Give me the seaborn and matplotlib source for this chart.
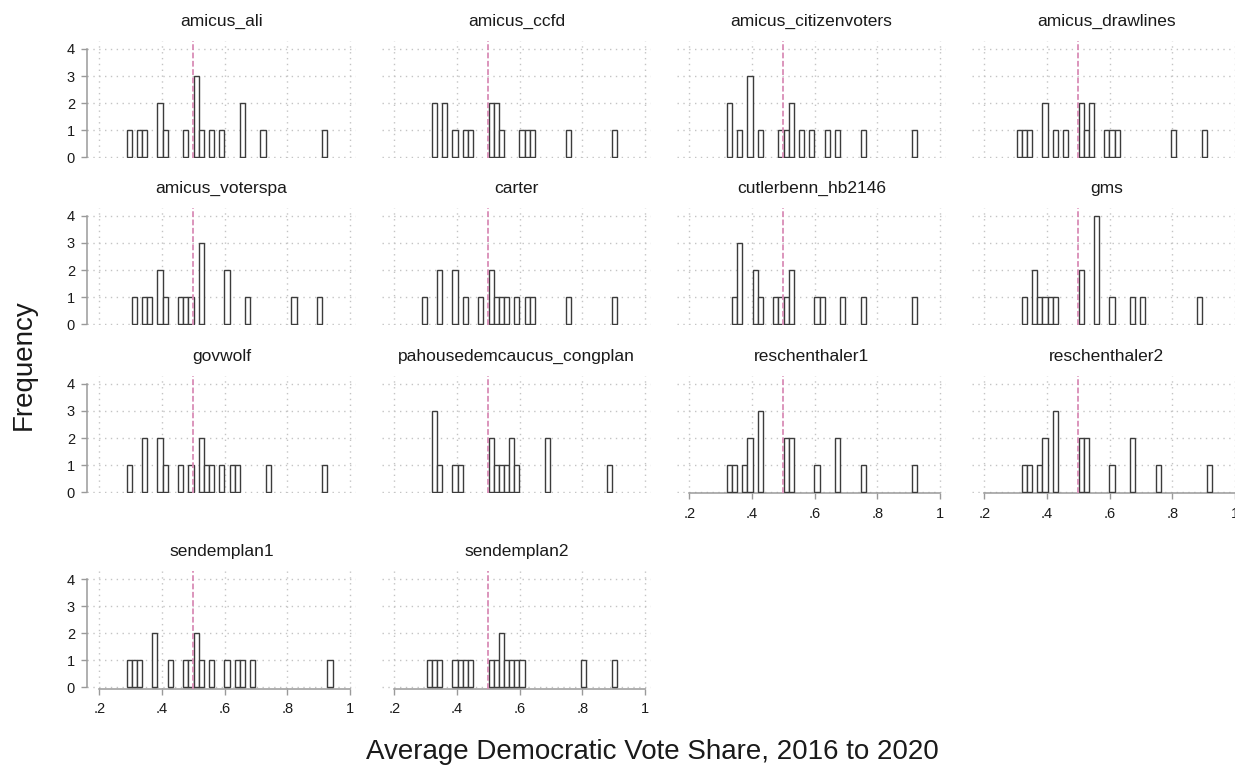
import matplotlib
matplotlib.use("Agg")
import matplotlib.pyplot as plt
import pandas as pd
import seaborn as sns

# ---- data: average Democratic vote share by district, one list per plan ----
plans = [
    "amicus_ali", "amicus_ccfd", "amicus_citizenvoters", "amicus_drawlines",
    "amicus_voterspa", "carter", "cutlerbenn_hb2146", "gms",
    "govwolf", "pahousedemcaucus_congplan", "reschenthaler1", "reschenthaler2",
    "sendemplan1", "sendemplan2",
]

amicus_ali = [0.295, 0.328, 0.345, 0.394, 0.394, 0.410, 0.476, 0.509, 0.509,
              0.509, 0.525, 0.558, 0.591, 0.657, 0.657, 0.723, 0.920]
amicus_ccfd = [0.328, 0.328, 0.361, 0.361, 0.394, 0.427, 0.443, 0.509, 0.509,
               0.525, 0.525, 0.542, 0.608, 0.624, 0.640, 0.755, 0.903]
amicus_citizenvoters = [0.328, 0.328, 0.361, 0.394, 0.394, 0.394, 0.427, 0.493,
                        0.509, 0.525, 0.525, 0.558, 0.591, 0.640, 0.673, 0.755, 0.920]
amicus_drawlines = [0.312, 0.328, 0.345, 0.394, 0.394, 0.427, 0.460, 0.509, 0.509,
                    0.525, 0.542, 0.542, 0.591, 0.608, 0.624, 0.805, 0.903]
amicus_voterspa = [0.312, 0.345, 0.361, 0.394, 0.394, 0.410, 0.460, 0.476, 0.493,
                   0.525, 0.525, 0.525, 0.608, 0.608, 0.673, 0.821, 0.903]
carter = [0.295, 0.345, 0.345, 0.394, 0.394, 0.427, 0.476, 0.509, 0.509,
          0.525, 0.542, 0.558, 0.591, 0.624, 0.640, 0.755, 0.903]
cutlerbenn_hb2146 = [0.345, 0.361, 0.361, 0.361, 0.410, 0.410, 0.427, 0.476, 0.493,
                     0.509, 0.525, 0.525, 0.608, 0.624, 0.690, 0.755, 0.920]
gms = [0.328, 0.361, 0.361, 0.378, 0.394, 0.410, 0.427, 0.509, 0.509,
       0.558, 0.558, 0.558, 0.558, 0.608, 0.673, 0.706, 0.887]
govwolf = [0.295, 0.345, 0.345, 0.394, 0.394, 0.410, 0.460, 0.493, 0.525,
           0.525, 0.542, 0.558, 0.591, 0.624, 0.640, 0.739, 0.920]
pahousedemcaucus_congplan = [0.328, 0.328, 0.328, 0.345, 0.394, 0.410, 0.509, 0.509,
                             0.525, 0.542, 0.558, 0.575, 0.575, 0.591, 0.690, 0.690, 0.887]
reschenthaler1 = [0.328, 0.345, 0.378, 0.394, 0.394, 0.427, 0.427, 0.427, 0.509,
                  0.509, 0.525, 0.525, 0.608, 0.673, 0.673, 0.755, 0.920]
reschenthaler2 = [0.328, 0.345, 0.378, 0.394, 0.394, 0.427, 0.427, 0.427, 0.509,
                  0.509, 0.525, 0.525, 0.608, 0.673, 0.673, 0.755, 0.920]
sendemplan1 = [0.295, 0.312, 0.328, 0.378, 0.378, 0.427, 0.476, 0.493, 0.509,
               0.509, 0.525, 0.558, 0.608, 0.640, 0.657, 0.690, 0.936]
sendemplan2 = [0.312, 0.328, 0.345, 0.394, 0.410, 0.427, 0.443, 0.509, 0.525,
               0.542, 0.542, 0.558, 0.575, 0.591, 0.608, 0.805, 0.903]

shares = {
    "amicus_ali": amicus_ali, "amicus_ccfd": amicus_ccfd,
    "amicus_citizenvoters": amicus_citizenvoters, "amicus_drawlines": amicus_drawlines,
    "amicus_voterspa": amicus_voterspa, "carter": carter,
    "cutlerbenn_hb2146": cutlerbenn_hb2146, "gms": gms, "govwolf": govwolf,
    "pahousedemcaucus_congplan": pahousedemcaucus_congplan,
    "reschenthaler1": reschenthaler1, "reschenthaler2": reschenthaler2,
    "sendemplan1": sendemplan1, "sendemplan2": sendemplan2,
}

df = pd.DataFrame(
    [(p, v) for p in plans for v in shares[p]], columns=["plan", "share"]
)

# 40 common bins spanning the pooled range of all plans
n_bins = 40
bin_range = (0.2872, 0.9445)
even_split = 0.5

x_ticks = [0.2, 0.4, 0.6, 0.8, 1.0]
x_tick_labels = [".2", ".4", ".6", ".8", "1"]
y_ticks = [0, 1, 2, 3, 4]

# ---- styling ----
sns.set_theme(style="white")
plt.rcParams["font.family"] = ["Liberation Sans", "DejaVu Sans"]

W, H = 1235, 769
fig = plt.figure(figsize=(W / 100, H / 100), dpi=100)

XMIN, XMAX = 0.16, 1.02
YMIN, YMAX = -0.04, 4.3
PX_X = 313.4          # pixels per unit of vote share
PX_Y = 27.1           # pixels per count
col_left = [86.7 + 295 * c for c in range(4)]
row_zero = [157.3, 324.3, 492.3, 687.5]

axis_grey = "#9a9a9a"
grid_grey = "#c4c4c4"
text_dark = "#1a1a1a"

for i, plan in enumerate(plans):
    r, c = divmod(i, 4)
    width_px = (XMAX - XMIN) * PX_X
    bottom_px = row_zero[r] - YMIN * PX_Y
    top_px = row_zero[r] - YMAX * PX_Y
    ax = fig.add_axes([col_left[c] / W, 1 - bottom_px / H,
                       width_px / W, (bottom_px - top_px) / H])

    sns.histplot(data=df[df["plan"] == plan], x="share", bins=n_bins,
                 binrange=bin_range, fill=True, element="bars",
                 facecolor="white", edgecolor="#3c3c3c", alpha=1.0,
                 linewidth=1.0, ax=ax, zorder=3)
    # empty bins get no outline
    for patch in ax.patches:
        if patch.get_height() == 0:
            patch.set_visible(False)

    ax.axvline(even_split, color="#d98cb6", linewidth=1.3,
               linestyle=(0, (3.2, 1.4)), zorder=4)

    ax.set_xlim(XMIN, XMAX)
    ax.set_ylim(YMIN, YMAX)
    ax.set_xticks(x_ticks)
    ax.set_yticks(y_ticks)
    ax.set_xlabel("")
    ax.set_ylabel("")
    ax.grid(True, color=grid_grey, linestyle=(0, (1, 3.2)), linewidth=1.0, zorder=0)
    ax.set_axisbelow(True)
    ax.patch.set_alpha(0)

    for side in ["top", "right", "left", "bottom"]:
        ax.spines[side].set_visible(False)

    show_x = i >= 10
    show_y = c == 0

    if show_x:
        ax.spines["bottom"].set_visible(True)
        ax.spines["bottom"].set_bounds(0.2, 1.0)
        ax.spines["bottom"].set_color(axis_grey)
        ax.spines["bottom"].set_linewidth(1.1)
        ax.set_xticklabels(x_tick_labels)
        ax.tick_params(axis="x", bottom=True, length=4.5, width=1.0,
                       color=axis_grey, labelsize=10.5, labelcolor=text_dark, pad=5)
    else:
        ax.tick_params(axis="x", bottom=False, labelbottom=False)

    if show_y:
        ax.spines["left"].set_visible(True)
        ax.spines["left"].set_bounds(0, 4)
        ax.spines["left"].set_color(axis_grey)
        ax.spines["left"].set_linewidth(1.1)
        ax.tick_params(axis="y", left=True, length=4.5, width=1.0,
                       color=axis_grey, labelsize=10.5, labelcolor=text_dark, pad=4)
    else:
        ax.tick_params(axis="y", left=False, labelleft=False)

    axes_h = bottom_px - top_px
    ax.text(0.5, 1 + 19 / axes_h, plan, transform=ax.transAxes,
            ha="center", va="center", fontsize=12.5, color=text_dark)

fig.text(24 / W, 1 - 365 / H, "Frequency", rotation=90, ha="center",
         va="center", fontsize=20, color=text_dark)
fig.text(652 / W, 1 - 752 / H, "Average Democratic Vote Share, 2016 to 2020",
         ha="center", va="center", fontsize=20, color=text_dark)

fig.savefig("out.png", dpi=100, facecolor="white")
